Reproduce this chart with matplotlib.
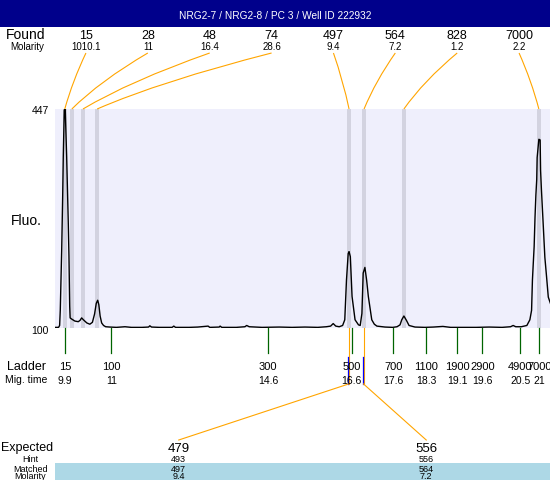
import matplotlib
matplotlib.use('Agg')
import matplotlib.pyplot as plt
from matplotlib.patches import Rectangle, PathPatch
from matplotlib.path import Path

plt.rcParams['font.family'] = ['Liberation Sans', 'DejaVu Sans']

# ---------------- data ----------------
title = "NRG2-7 / NRG2-8 / PC 3 / Well ID 222932"

found_sizes = [15, 28, 48, 74, 497, 564, 828, 7000]
found_molarity = ["1010.1", "11", "16.4", "28.6", "9.4", "7.2", "1.2", "2.2"]
found_times = [9.895, 10.06, 10.32, 10.65, 16.53, 16.88, 17.81, 20.96]

ladder_sizes = [15, 100, 300, 500, 700, 1100, 1900, 2900, 4900, 7000]
ladder_times = [9.90, 10.98, 14.64, 16.59, 17.56, 18.33, 19.06, 19.64, 20.53, 20.97]

expected_sizes = [479, 556]
hint_sizes = [493, 556]
matched_sizes = [497, 564]
matched_molarity = ["9.4", "7.2"]
matched_times = [16.53, 16.88]

y_min, y_max = 100, 447
t_min, t_max = 9.667, 21.22

trace_time = [9.667, 9.75, 9.775, 9.79, 9.823, 9.846, 9.860, 9.883, 9.895, 9.906,
              9.939, 9.977, 9.993, 10.01, 10.02, 10.06, 10.13, 10.21, 10.25, 10.289,
              10.33, 10.41, 10.48, 10.54, 10.59, 10.63, 10.663, 10.69, 10.72, 10.756,
              10.80, 10.85, 10.95, 11.10, 11.30, 11.45, 11.70, 11.85, 11.88, 11.92,
              12.10, 12.40, 12.44, 12.48, 12.80, 13.00, 13.24, 13.28, 13.50, 13.52,
              13.56, 13.90, 14.10, 14.14, 14.20, 14.50, 14.90, 15.20, 15.50, 15.80,
              16.00, 16.10, 16.16, 16.22, 16.30, 16.38, 16.43, 16.47, 16.51, 16.53,
              16.56, 16.60, 16.67, 16.75, 16.79, 16.83, 16.86, 16.90, 16.94, 16.98,
              17.06, 17.12, 17.18, 17.37, 17.55, 17.65, 17.72, 17.76, 17.81, 17.87,
              17.93, 18.07, 18.30, 18.50, 18.72, 18.90, 19.20, 19.50, 19.80, 20.10,
              20.30, 20.36, 20.42, 20.55, 20.68, 20.75, 20.79, 20.81, 20.83, 20.85,
              20.87, 20.89, 20.91, 20.92, 20.96, 20.99, 21.00, 21.02, 21.06, 21.10,
              21.14, 21.18, 21.22, 21.30]
trace_fluo = [101, 101, 104, 128, 223, 308, 371, 445, 447, 446,
              372, 266, 213, 135, 116, 114, 111, 110, 112, 116,
              113, 108, 106, 109, 122, 139, 144, 137, 119, 108,
              104, 102, 101.5, 101, 102, 101, 101, 101.5, 103.5, 101.5,
              101, 101, 103, 101, 101, 101.5, 103, 101, 101.5, 103,
              101, 101, 102, 104, 102, 101, 101.5, 101, 101.5, 101,
              102, 103, 107, 103, 102, 104, 113, 176, 218, 221,
              213, 150, 113, 105, 104, 123, 187, 196, 176, 150,
              113, 106, 103, 101.5, 101, 102, 105, 113, 119, 112,
              104, 101.5, 101, 101.5, 102.5, 101, 101, 101, 101.5, 101,
              102, 104, 102, 102, 104, 113, 128, 176, 203, 229,
              275, 310, 335, 370, 399, 398, 350, 319, 266, 212,
              181, 149, 141, 125]

# ---------------- layout ----------------
W, H = 550, 480
L, R, T, B = 55, 550, 109, 328
ORANGE = '#FFA500'
GREEN = '#006400'

fig = plt.figure(figsize=(W / 100, H / 100), dpi=100)
fig.patch.set_facecolor('white')

ax = fig.add_axes([L / W, 1 - B / H, (R - L) / W, (B - T) / H])
ax.set_facecolor('#EFEFFC')
ax.set_xlim(t_min, t_max)
ax.set_ylim(y_min, y_max)
for s in ax.spines.values():
    s.set_visible(False)
ax.set_xticks([])
ax.set_yticks([])

band_half = 0.047
for t in found_times:
    ax.axvspan(t - band_half, t + band_half, color='#D3D3E0', lw=0, zorder=1)
ax.plot(trace_time, trace_fluo, color='black', lw=1.0, zorder=3)

ov = fig.add_axes([0, 0, 1, 1], zorder=5)
ov.set_xlim(0, W)
ov.set_ylim(H, 0)
ov.axis('off')
ov.patch.set_alpha(0)


def tx(t):
    dx, _ = ax.transData.transform((t, y_min))
    return dx * W / fig.bbox.width


def fx(frac):
    dx, _ = ax.transAxes.transform((frac, 0))
    return dx * W / fig.bbox.width


# title bar
ov.add_patch(Rectangle((0, 0), W, 26.7, color='#00008B', lw=0))
ov.text(W / 2, 19.3, title, color='white', fontsize=7.3, ha='center', va='baseline')

# found rows
ov.text(26, 39.3, "Found", fontsize=10, ha='center', va='baseline')
ov.text(27, 49.5, "Molarity", fontsize=7, ha='center', va='baseline')
n = len(found_sizes)
for i, (s, m, t) in enumerate(zip(found_sizes, found_molarity, found_times)):
    lx = fx((i + 0.5) / n)
    ov.text(lx, 39.3, str(s), fontsize=9, ha='center', va='baseline')
    ov.text(lx, 49.7, m, fontsize=7, ha='center', va='baseline')
    bx = tx(t)
    y0, y1 = 53, T
    cx = lx + 0.63 * (bx - lx)
    cy = (y0 + y1) / 2
    p = Path([(lx, y0), (cx, cy), (bx, y1)], [Path.MOVETO, Path.CURVE3, Path.CURVE3])
    ov.add_patch(PathPatch(p, fc='none', ec=ORANGE, lw=0.8))

# y labels
ov.text(40, 114, str(y_max), fontsize=7.5, ha='center', va='baseline')
ov.text(40, 334, str(y_min), fontsize=7.5, ha='center', va='baseline')
ov.text(26, 225, "Fluo.", fontsize=10, ha='center', va='baseline')

# ladder
ov.text(27, 370, "Ladder", fontsize=9, ha='center', va='baseline')
ov.text(26.5, 383, "Mig. time", fontsize=7.5, ha='center', va='baseline')


def fmt(v):
    s = f"{v:.1f}"
    return s[:-2] if s.endswith(".0") else s


for s, t in zip(ladder_sizes, ladder_times):
    x = tx(t)
    ov.plot([x, x], [B, 353], color=GREEN, lw=0.9)
    ov.text(x, 369.5, str(s), fontsize=8, ha='center', va='baseline')
    ov.text(x, 384, fmt(t), fontsize=7.5, ha='center', va='baseline')

# expected / matched section
ov.add_patch(Rectangle((L, 463), R - L, 20, color='#ADD8E6', lw=0))
ov.text(27.5, 451, "Expected", fontsize=9, ha='center', va='baseline')
ov.text(30, 461.5, "Hint", fontsize=6.5, ha='center', va='baseline')
ov.text(30.5, 471.5, "Matched", fontsize=6.5, ha='center', va='baseline')
ov.text(30, 479, "Molarity", fontsize=6.5, ha='center', va='baseline')
ne = len(expected_sizes)
for i, (e, h, m, mm, t) in enumerate(zip(expected_sizes, hint_sizes, matched_sizes,
                                         matched_molarity, matched_times)):
    lx = fx((i + 0.5) / ne)
    ov.text(lx, 452, str(e), fontsize=9.5, ha='center', va='baseline')
    ov.text(lx, 461.5, str(h), fontsize=6.5, ha='center', va='baseline')
    ov.text(lx, 471.5, str(m), fontsize=6.5, ha='center', va='baseline')
    ov.text(lx, 479, mm, fontsize=6.5, ha='center', va='baseline')
    bx = tx(t)
    ov.plot([bx, bx], [B, 384], color=ORANGE, lw=0.8)
    ov.plot([bx - 1, bx - 1], [357, 384], color='#0000FF', lw=0.9)
    ov.plot([bx - 0.5, lx], [384, 440], color=ORANGE, lw=0.8)

fig.savefig('out.png', dpi=100, facecolor='white')
